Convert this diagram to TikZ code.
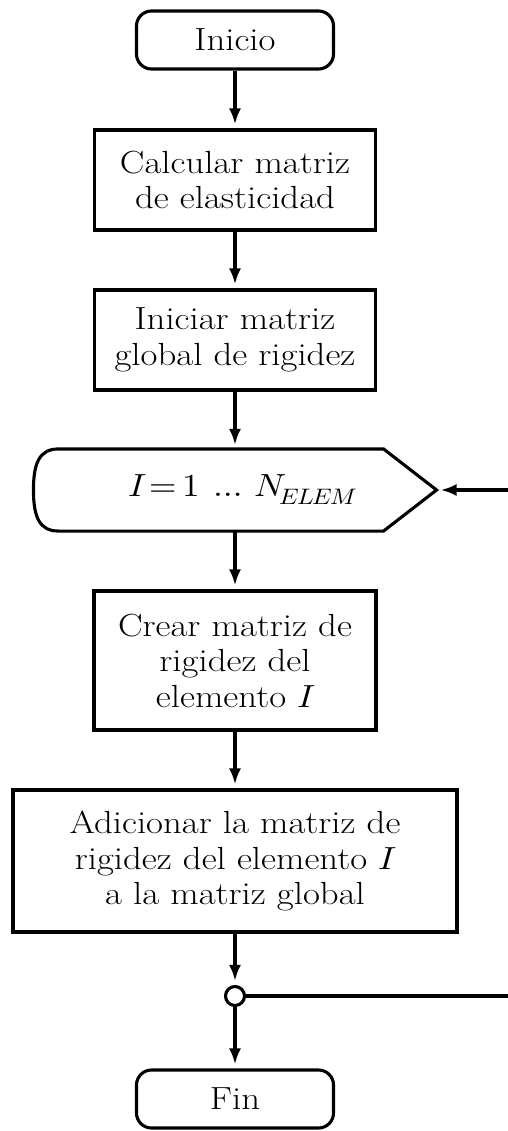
\documentclass[tikz,border=0pt]{standalone}
\usepackage{fontspec}
\usepackage{unicode-math}
\setmainfont{Latin Modern Roman}[FakeStretch=1.15]
\setmathfont{Latin Modern Math}[FakeStretch=1.1]
\usetikzlibrary{arrows.meta,calc}
\begin{document}
\begin{tikzpicture}[x=1pt,y=-1pt,
  base/.style={line width=3.1pt, font=\fontsize{32}{35.5}\selectfont, align=center, inner sep=0pt},
  term/.style={base, draw, rounded corners=15pt, minimum width=197pt, minimum height=58pt},
  proc/.style={base, draw, minimum width=281pt, minimum height=100pt},
  conn/.style={line width=3.1pt, -{Latex[length=16pt,width=12pt]}, shorten >=4pt},
  plain/.style={line width=3.1pt}
]
\useasboundingbox (0,0) rectangle (508,1131);
\node[term] (inicio) at (235,40) {Inicio};
\node[proc] (calc) at (235,180) {Calcular matriz\\de elasticidad};
\node[proc] (ini) at (235,340) {Iniciar matriz\\global de rigidez};
\node[base, minimum width=400pt, minimum height=79pt] (loop) at (235,490) {\hspace*{14pt}$I\!= 1\;\ldots\;N_{\scriptstyle ELEM}$};
\draw[plain, line join=miter]
  ($(loop.north west)+(25,0)$) -- ($(loop.north east)+(-53,0)$) -- (loop.east)
  -- ($(loop.south east)+(-53,0)$) -- ($(loop.south west)+(25,0)$)
  .. controls ($(loop.south west)+(6,0)$) and ($(loop.west)+(0,27)$) .. (loop.west)
  .. controls ($(loop.west)+(0,-27)$) and ($(loop.north west)+(6,0)$) .. ($(loop.north west)+(25,0)$) -- cycle;
\node[proc, minimum width=282pt, minimum height=139pt] (crear) at (235,660.5) {Crear matriz de\\rigidez del\\elemento $I$};
\node[proc, minimum width=444pt, minimum height=142pt] (add) at (235,861) {Adicionar la matriz de\\rigidez del elemento $I$\\a la matriz global};
\node[circle, draw, line width=3.1pt, fill=white, minimum size=19pt, inner sep=0pt] (join) at (235,996) {};
\node[term] (fin) at (235,1099) {Fin};
\coordinate (loopin) at (510,490);
\coordinate (joinout) at (510,996);
\draw[conn] (inicio) -- (calc);
\draw[conn] (calc) -- (ini);
\draw[conn] (ini) -- (loop.south |- loop.north);
\draw[conn] (loop.south) -- (crear);
\draw[conn] (crear) -- (add);
\draw[conn] (add) -- (join);
\draw[conn] (join) -- (fin);
\draw[plain] (join) -- (joinout);
\draw[conn] (loopin) -- (loop.east);
\end{tikzpicture}
\end{document}
